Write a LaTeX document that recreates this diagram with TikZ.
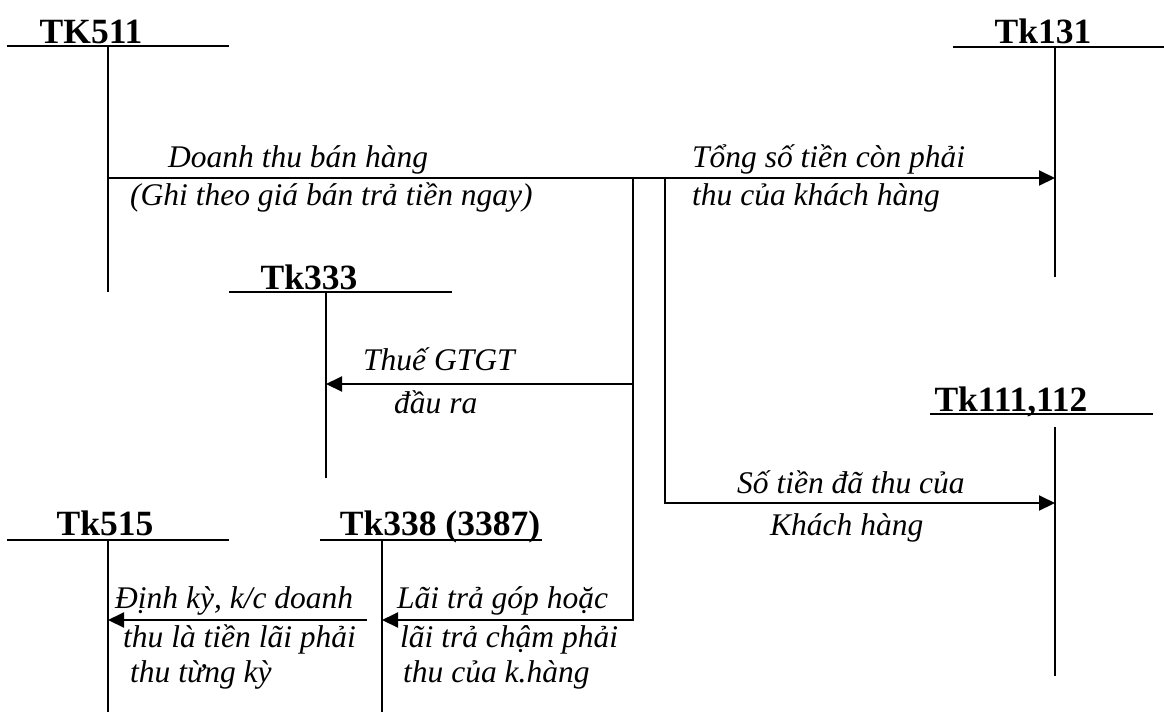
\documentclass[tikz,border=0pt]{standalone}
\usepackage{fontspec}
\setmainfont{Liberation Serif}
\usetikzlibrary{arrows.meta}

\begin{document}
\begin{tikzpicture}[x=1pt, y=-1pt,
  acc/.style={font=\fontsize{35.5}{40}\selectfont\bfseries, inner sep=0pt, anchor=base},
  lbl/.style={font=\fontsize{31.5}{37}\selectfont\itshape, inner sep=0pt, anchor=base west},
  bar/.style={line width=2.4pt},
  tline/.style={line width=2pt},
  flow/.style={line width=2pt, -{Triangle[length=16pt,width=15pt]}}]
  \useasboundingbox (0,0) rectangle (1164,713);

  % TK511
  \node[acc] (tk511) at (91,43) {TK511};
  \draw[bar] (7,46) -- (229,46);
  \coordinate (tk511top) at (108,46);
  \coordinate (tk511bot) at (108,292);
  \draw[tline] (tk511top) -- (tk511bot);

  % Tk131
  \node[acc] (tk131) at (1043,43) {Tk131};
  \draw[bar] (953,47) -- (1164,47);
  \coordinate (tk131top) at (1055,47);
  \coordinate (tk131bot) at (1055,277);
  \draw[tline] (tk131top) -- (tk131bot);

  % Tk333
  \node[acc] (tk333) at (309,289) {Tk333};
  \draw[bar] (229,292) -- (452,292);
  \coordinate (tk333top) at (326,292);
  \coordinate (tk333bot) at (326,478);
  \draw[tline] (tk333top) -- (tk333bot);

  % Tk111,112
  \node[acc] (tk111) at (1011,411) {Tk111,112};
  \draw[bar] (930,414) -- (1153,414);
  \coordinate (tk111top) at (1055,427);
  \coordinate (tk111bot) at (1055,676);
  \draw[tline] (tk111top) -- (tk111bot);

  % Tk515
  \node[acc] (tk515) at (105,535) {Tk515};
  \draw[bar] (7,540) -- (229,540);
  \coordinate (tk515top) at (108,540);
  \coordinate (tk515bot) at (108,712);
  \draw[tline] (tk515top) -- (tk515bot);

  % Tk338 (3387)
  \node[acc] (tk338) at (440,535) {Tk338 (3387)};
  \draw[bar] (320,540) -- (542,540);
  \coordinate (tk338top) at (382,540);
  \coordinate (tk338bot) at (382,712);
  \draw[tline] (tk338top) -- (tk338bot);

  % Connectors
  \coordinate (m511) at (108,178);
  \coordinate (m131) at (1055,178);
  \coordinate (ja) at (633,178);
  \coordinate (jb) at (665,178);
  \coordinate (jc) at (633,384);
  \coordinate (m333) at (326,384);
  \coordinate (m111) at (1055,503);
  \coordinate (m338) at (382,620);
  \coordinate (s515) at (367,620);
  \coordinate (m515) at (108,620);
  \draw[flow] (m511) -- (m131);
  \draw[flow] (ja) |- (m338);
  \draw[flow] (jc) -- (m333);
  \draw[flow] (jb) |- (m111);
  \draw[flow] (s515) -- (m515);

  % Labels
  \node[lbl] (dt1) at (168,167) {Doanh thu bán hàng};
  \node[lbl] (dt2) at (130,205) {(Ghi theo giá bán trả tiền ngay)};
  \node[lbl] (ts1) at (692,167) {Tổng số tiền còn phải};
  \node[lbl] (ts2) at (692,205) {thu của khách hàng};
  \node[lbl] (vat1) at (363,370) {Thuế GTGT};
  \node[lbl] (vat2) at (394,413) {đầu ra};
  \node[lbl] (st1) at (737,493) {Số tiền đã thu của};
  \node[lbl] (st2) at (770,535) {Khách hàng};
  \node[lbl] (dk1) at (115,608) {Định kỳ, k/c doanh};
  \node[lbl] (dk2) at (123,647) {thu là tiền lãi phải};
  \node[lbl] (dk3) at (130,682) {thu từng kỳ};
  \node[lbl] (lt1) at (397,608) {Lãi trả góp hoặc};
  \node[lbl] (lt2) at (400,647) {lãi trả chậm phải};
  \node[lbl] (lt3) at (403,682) {thu của k.hàng};
\end{tikzpicture}
\end{document}
